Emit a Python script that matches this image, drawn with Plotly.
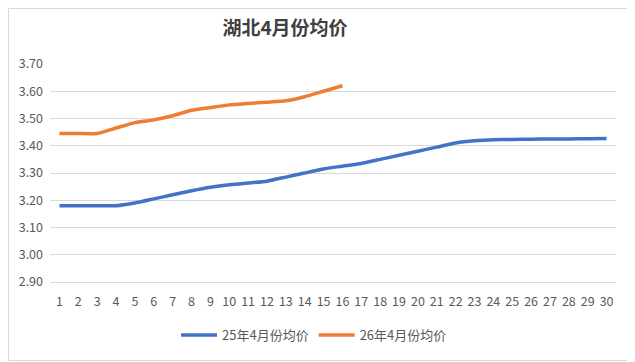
import plotly.graph_objects as go

days = list(range(1, 31))
tick_labels = [str(d) for d in days]
series_25_name = "25年4月份均价"
series_26_name = "26年4月份均价"
price_25 = [3.18, 3.18, 3.18, 3.18, 3.19, 3.205, 3.22, 3.235, 3.248, 3.257,
            3.263, 3.27, 3.285, 3.30, 3.315, 3.325, 3.335, 3.35, 3.365, 3.38,
            3.395, 3.41, 3.418, 3.422, 3.423, 3.424, 3.425, 3.425, 3.426, 3.427]
price_26 = [3.445, 3.445, 3.445, 3.465, 3.485, 3.495, 3.51, 3.53, 3.54, 3.55,
            3.555, 3.56, 3.565, 3.58, 3.60, 3.62]
y_ticks = [2.9, 3.0, 3.1, 3.2, 3.3, 3.4, 3.5, 3.6, 3.7]
title_text = "湖北4月份均价"

FONT = "Noto Sans CJK SC, sans-serif"

fig = go.Figure()
fig.add_trace(go.Scatter(x=days, y=price_25, mode="lines", name=series_25_name,
                         line=dict(color="#4472C4", width=3.5, shape="spline", smoothing=0.4)))
fig.add_trace(go.Scatter(x=days[:len(price_26)], y=price_26, mode="lines", name=series_26_name,
                         line=dict(color="#ED7D31", width=3.5, shape="spline", smoothing=0.4)))

# page body has an 8px margin, so the figure is sized/offset to compensate
OFF = 8
W, H = 635 - OFF, 362 - OFF
L, R, T, B = 50 - OFF, 19, 64 - OFF, 80
pw, ph = W - L - R, H - T - B

fig.update_layout(
    width=W, height=H,
    margin=dict(l=L, r=R, t=T, b=B, autoexpand=False),
    paper_bgcolor="white", plot_bgcolor="white",
    font=dict(family=FONT, color="#595959", size=12),
    title=dict(text=title_text, x=(285 - OFF) / W, xanchor="center", y=1 - (28 - OFF) / H, yanchor="middle",
               font=dict(family=FONT, size=19, color="#404040", weight="bold")),
    showlegend=True,
    legend=dict(orientation="h", x=(314 - 50) / pw,
                xanchor="center", y=-(335 - 282) / ph, yanchor="middle",
                font=dict(family=FONT, size=13, color="#595959"),
                itemwidth=36, tracegroupgap=0),
    xaxis=dict(type="linear", range=[0.5, 30.5], tickmode="array", tickvals=days, ticktext=tick_labels,
               showgrid=False, showline=True, linecolor="#D9D9D9", linewidth=1,
               ticks="", ticklabelstandoff=8,
               tickfont=dict(size=12.5, color="#595959"), zeroline=False, fixedrange=True,
               automargin=False),
    yaxis=dict(range=[2.9, 3.7], tickmode="array", tickvals=y_ticks,
               ticktext=[f"{v:.2f}" for v in y_ticks],
               showgrid=True, gridcolor="#D9D9D9", gridwidth=1, zeroline=False,
               showline=False, ticks="", ticklabelstandoff=6,
               tickfont=dict(size=12.5, color="#595959"), fixedrange=True,
               automargin=False),
    shapes=[dict(type="rect", xref="paper", yref="paper",
                 x0=(0.5 - L) / pw, x1=(W - 1.5 - L) / pw,
                 y0=-(B - 1.5) / ph, y1=(ph + T - 0.5) / ph,
                 line=dict(color="#D9D9D9", width=1), fillcolor="rgba(0,0,0,0)", layer="below")],
)

fig.write_html("out.html")
